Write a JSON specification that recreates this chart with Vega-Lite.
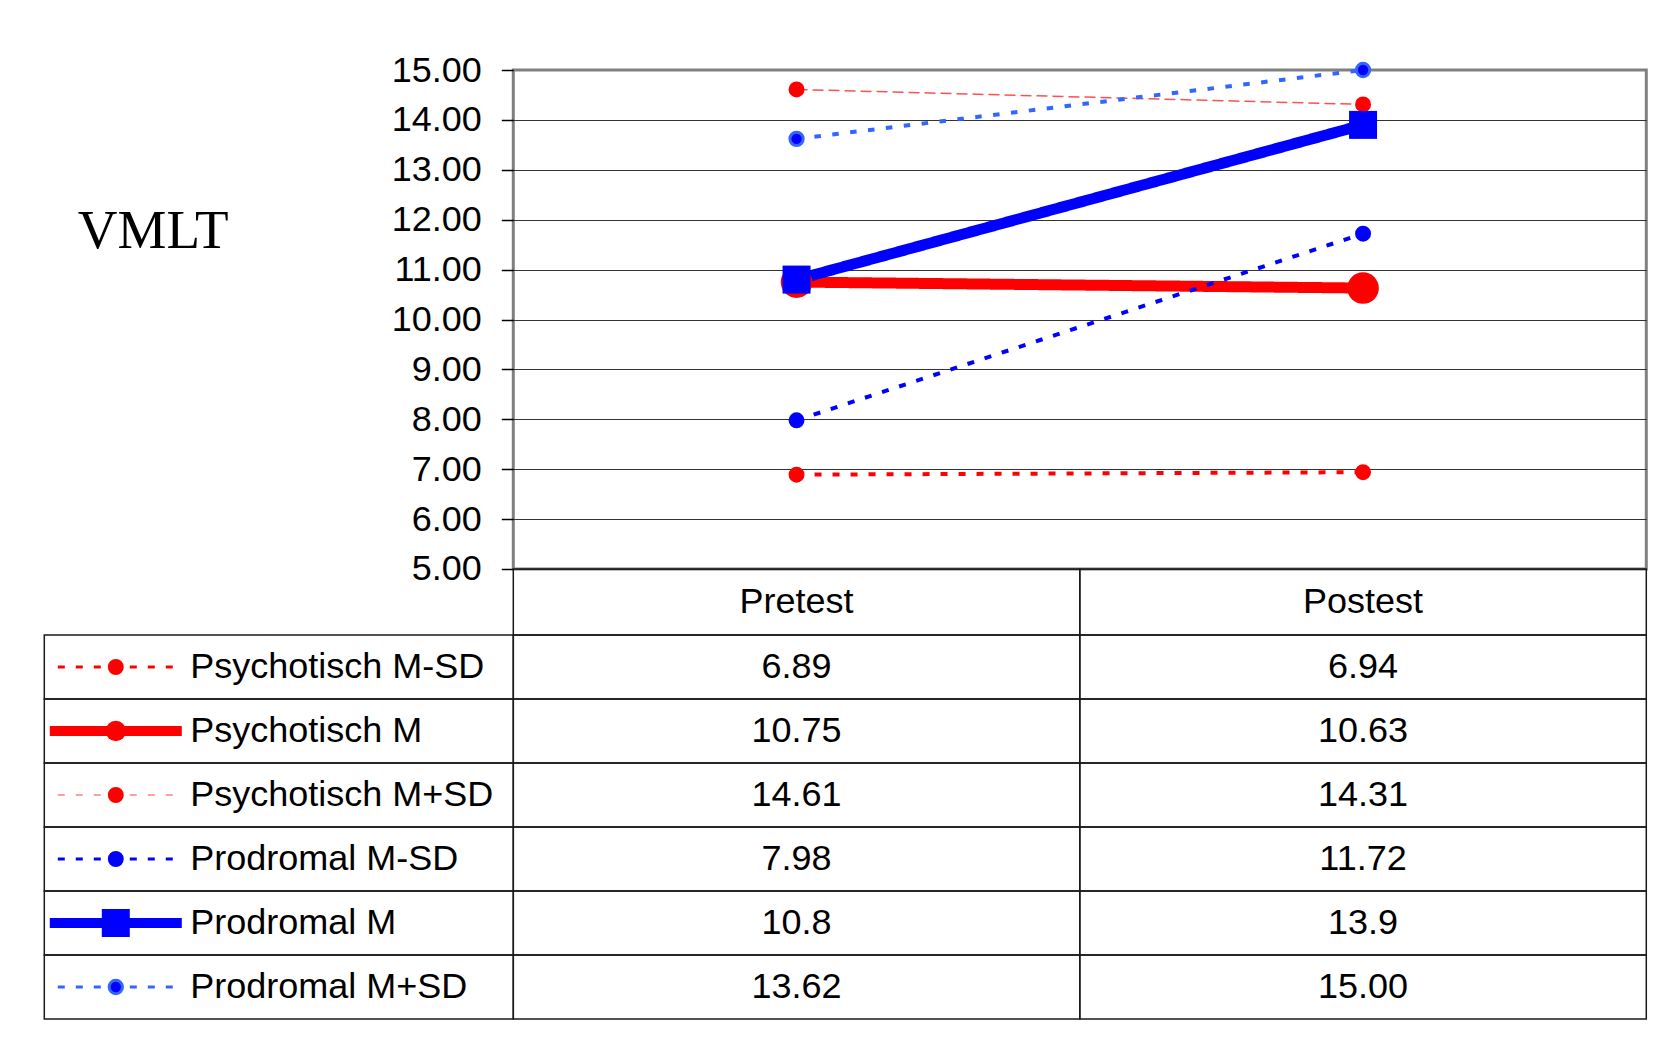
{
  "$schema": "https://vega.github.io/schema/vega-lite/v6.json",
  "padding": {"left": 43.3, "top": 50, "right": 0, "bottom": 0},
  "background": "white",
  "datasets": {
    "vals": [
      {"series": "Psychotisch M-SD", "period": "Pretest", "value": 6.89, "text": "6.89"},
      {"series": "Psychotisch M-SD", "period": "Postest", "value": 6.94, "text": "6.94"},
      {"series": "Psychotisch M", "period": "Pretest", "value": 10.75, "text": "10.75"},
      {"series": "Psychotisch M", "period": "Postest", "value": 10.63, "text": "10.63"},
      {"series": "Psychotisch M+SD", "period": "Pretest", "value": 14.61, "text": "14.61"},
      {"series": "Psychotisch M+SD", "period": "Postest", "value": 14.31, "text": "14.31"},
      {"series": "Prodromal M-SD", "period": "Pretest", "value": 7.98, "text": "7.98"},
      {"series": "Prodromal M-SD", "period": "Postest", "value": 11.72, "text": "11.72"},
      {"series": "Prodromal M", "period": "Pretest", "value": 10.8, "text": "10.8"},
      {"series": "Prodromal M", "period": "Postest", "value": 13.9, "text": "13.9"},
      {"series": "Prodromal M+SD", "period": "Pretest", "value": 13.62, "text": "13.62"},
      {"series": "Prodromal M+SD", "period": "Postest", "value": 15.0, "text": "15.00"}
    ],
    "series": [
      {"series": "Psychotisch M-SD"},
      {"series": "Psychotisch M"},
      {"series": "Psychotisch M+SD"},
      {"series": "Prodromal M-SD"},
      {"series": "Prodromal M"},
      {"series": "Prodromal M+SD"}
    ],
    "periods": [{"period": "Pretest"}, {"period": "Postest"}]
  },
  "columns": 2,
  "spacing": 0,
  "bounds": "flush",
  "concat": [
    {"width": 469, "height": 499, "data": {"values": []}, "mark": "point"},
    {
      "width": 1133, "height": 499,
      "data": {"name": "vals"},
      "view": {"stroke": "#808080", "strokeWidth": 3},
      "encoding": {
        "x": {"field": "period", "type": "nominal", "sort": null,
              "scale": {"type": "point", "domain": ["Pretest", "Postest"], "padding": 0.5}, "axis": null},
        "y": {"field": "value", "type": "quantitative",
              "scale": {"domain": [5, 15], "nice": false, "zero": false},
              "axis": {"values": [5, 6, 7, 8, 9, 10, 11, 12, 13, 14, 15], "format": ".2f",
                       "grid": true, "gridColor": "#333333", "gridWidth": 1.2,
                       "gridOpacity": {"condition": {"test": "datum.value === 15", "value": 0}, "value": 1},
                       "domain": false, "ticks": true, "tickSize": 12, "tickColor": "#000000", "tickWidth": 1.5,
                       "labelFontSize": 36, "labelColor": "#000000", "labelPadding": 20, "labelFont": "Liberation Sans",
                       "title": "VMLT", "titleAngle": 0, "titleFont": "Liberation Serif", "titleFontSize": 55,
                       "titleFontWeight": "normal", "titleColor": "#000000", "titleAlign": "left",
                       "titleBaseline": "middle", "titleX": -436, "titleY": 160}}
      },
      "layer": [
        {
          "mark": {"type": "line", "strokeCap": "butt"},
          "encoding": {
            "stroke": {"field": "series", "type": "nominal", "legend": null,
                       "scale": {"domain": ["Psychotisch M-SD", "Psychotisch M", "Psychotisch M+SD", "Prodromal M-SD", "Prodromal M", "Prodromal M+SD"],
                                 "range": ["#ff0000", "#ff0000", "#ff5050", "#0000ff", "#0000ff", "#3366ff"]}},
            "strokeDash": {"field": "series", "type": "nominal", "legend": null,
                       "scale": {"domain": ["Psychotisch M-SD", "Psychotisch M", "Psychotisch M+SD", "Prodromal M-SD", "Prodromal M", "Prodromal M+SD"],
                                 "range": [[7, 11], [1, 0], [11, 5], [7, 11], [1, 0], [6.5, 11.5]]}},
            "strokeWidth": {"condition": [
                {"test": "datum.series === 'Psychotisch M' || datum.series === 'Prodromal M'", "value": 11},
                {"test": "datum.series === 'Psychotisch M+SD'", "value": 1.5}
              ], "value": 4}
          }
        },
        {
          "mark": {"type": "point", "filled": true, "opacity": 1},
          "encoding": {
            "fill": {"field": "series", "type": "nominal", "legend": null,
                     "scale": {"domain": ["Psychotisch M-SD", "Psychotisch M", "Psychotisch M+SD", "Prodromal M-SD", "Prodromal M", "Prodromal M+SD"],
                               "range": ["#ff0000", "#ff0000", "#ff0000", "#0000ff", "#0000ff", "#0000ff"]}},
            "shape": {"field": "series", "type": "nominal", "legend": null,
                     "scale": {"domain": ["Psychotisch M-SD", "Psychotisch M", "Psychotisch M+SD", "Prodromal M-SD", "Prodromal M", "Prodromal M+SD"],
                               "range": ["circle", "circle", "circle", "circle", "square", "circle"]}},
            "size": {"condition": [
                {"test": "datum.series === 'Psychotisch M'", "value": 1000},
                {"test": "datum.series === 'Prodromal M'", "value": 784},
                {"test": "datum.series === 'Prodromal M+SD'", "value": 177}
              ], "value": 254},
            "stroke": {"condition": {"test": "datum.series === 'Prodromal M+SD'", "value": "#3366ff"}, "value": "transparent"},
            "strokeWidth": {"condition": {"test": "datum.series === 'Prodromal M+SD'", "value": 3}, "value": 0}
          }
        }
      ]
    },
    {"width": 469, "height": 66, "data": {"values": []}, "mark": "point"},
    {
      "width": 1133, "height": 66,
      "data": {"name": "periods"},
      "encoding": {
        "x": {"field": "period", "type": "nominal", "sort": null,
              "scale": {"domain": ["Pretest", "Postest"], "paddingInner": 0, "paddingOuter": 0}, "axis": null}
      },
      "layer": [
        {"mark": {"type": "rect", "fill": "transparent", "stroke": "#1a1a1a", "strokeWidth": 1.5}},
        {"mark": {"type": "text", "fontSize": 36, "baseline": "middle", "font": "Liberation Sans", "color": "#000000"},
         "encoding": {"text": {"field": "period"}}}
      ]
    },
    {
      "width": 469, "height": 384,
      "data": {"name": "series"},
      "encoding": {
        "y": {"field": "series", "type": "nominal", "sort": null,
              "scale": {"domain": ["Psychotisch M-SD", "Psychotisch M", "Psychotisch M+SD", "Prodromal M-SD", "Prodromal M", "Prodromal M+SD"],
                        "paddingInner": 0, "paddingOuter": 0}, "axis": null}
      },
      "layer": [
        {"mark": {"type": "rect", "fill": "transparent", "stroke": "#1a1a1a", "strokeWidth": 1.5}},
        {
          "mark": {"type": "point", "shape": "stroke", "filled": false, "opacity": 1, "strokeCap": "butt", "strokeJoin": "round"},
          "encoding": {
            "x": {"datum": "key", "type": "nominal",
                  "scale": {"type": "point", "domain": ["key", "label"], "range": [71.5, 146], "padding": 0}, "axis": null},
            "size": {"condition": {"test": "datum.series === 'Psychotisch M' || datum.series === 'Prodromal M'", "value": 17424}, "value": 13456},
            "stroke": {"field": "series", "type": "nominal", "legend": null,
                       "scale": {"domain": ["Psychotisch M-SD", "Psychotisch M", "Psychotisch M+SD", "Prodromal M-SD", "Prodromal M", "Prodromal M+SD"],
                                 "range": ["#ff0000", "#ff0000", "#ff8080", "#0000ff", "#0000ff", "#3366ff"]}},
            "strokeDash": {"field": "series", "type": "nominal", "legend": null,
                       "scale": {"domain": ["Psychotisch M-SD", "Psychotisch M", "Psychotisch M+SD", "Prodromal M-SD", "Prodromal M", "Prodromal M+SD"],
                                 "range": [[7, 11], [1, 0], [7, 11], [7, 11], [1, 0], [7, 11]]}},
            "strokeWidth": {"condition": [
                {"test": "datum.series === 'Psychotisch M' || datum.series === 'Prodromal M'", "value": 10},
                {"test": "datum.series === 'Psychotisch M+SD'", "value": 1.5}
              ], "value": 3}
          }
        },
        {
          "mark": {"type": "point", "filled": true, "opacity": 1},
          "encoding": {
            "x": {"datum": "key", "type": "nominal"},
            "fill": {"field": "series", "type": "nominal", "legend": null,
                     "scale": {"domain": ["Psychotisch M-SD", "Psychotisch M", "Psychotisch M+SD", "Prodromal M-SD", "Prodromal M", "Prodromal M+SD"],
                               "range": ["#ff0000", "#ff0000", "#ff0000", "#0000ff", "#0000ff", "#0000ff"]}},
            "shape": {"field": "series", "type": "nominal", "legend": null,
                     "scale": {"domain": ["Psychotisch M-SD", "Psychotisch M", "Psychotisch M+SD", "Prodromal M-SD", "Prodromal M", "Prodromal M+SD"],
                               "range": ["circle", "circle", "circle", "circle", "square", "circle"]}},
            "size": {"condition": [
                {"test": "datum.series === 'Psychotisch M'", "value": 415},
                {"test": "datum.series === 'Prodromal M'", "value": 784},
                {"test": "datum.series === 'Prodromal M+SD'", "value": 177}
              ], "value": 254},
            "stroke": {"condition": {"test": "datum.series === 'Prodromal M+SD'", "value": "#3366ff"}, "value": "transparent"},
            "strokeWidth": {"condition": {"test": "datum.series === 'Prodromal M+SD'", "value": 3}, "value": 0}
          }
        },
        {
          "mark": {"type": "text", "align": "left", "baseline": "middle", "fontSize": 36, "font": "Liberation Sans", "color": "#000000"},
          "encoding": {
            "x": {"datum": "label", "type": "nominal"},
            "text": {"field": "series"}
          }
        }
      ]
    },
    {
      "width": 1133, "height": 384,
      "data": {"name": "vals"},
      "encoding": {
        "x": {"field": "period", "type": "nominal", "sort": null,
              "scale": {"domain": ["Pretest", "Postest"], "paddingInner": 0, "paddingOuter": 0}, "axis": null},
        "y": {"field": "series", "type": "nominal", "sort": null,
              "scale": {"domain": ["Psychotisch M-SD", "Psychotisch M", "Psychotisch M+SD", "Prodromal M-SD", "Prodromal M", "Prodromal M+SD"],
                        "paddingInner": 0, "paddingOuter": 0}, "axis": null}
      },
      "layer": [
        {"mark": {"type": "rect", "fill": "transparent", "stroke": "#1a1a1a", "strokeWidth": 1.5}},
        {"mark": {"type": "text", "fontSize": 36, "baseline": "middle", "font": "Liberation Sans", "color": "#000000"},
         "encoding": {"text": {"field": "text"}}}
      ]
    }
  ],
  "resolve": {
    "scale": {"stroke": "independent", "fill": "independent", "shape": "independent", "strokeDash": "independent", "size": "independent", "strokeWidth": "independent"}
  },
  "config": {
    "view": {"stroke": null},
    "legend": {"disable": true},
    "font": "Liberation Sans",
    "text": {"font": "Liberation Sans"}
  }
}
